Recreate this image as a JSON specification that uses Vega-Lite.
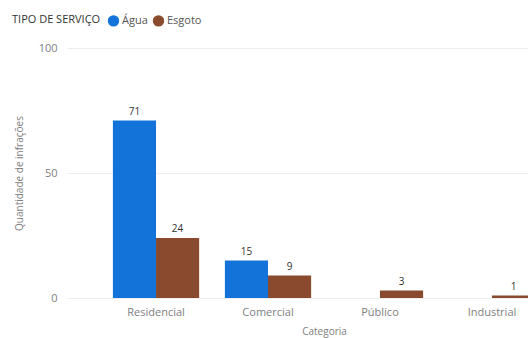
{
  "$schema": "https://vega.github.io/schema/vega-lite/v6.json",
  "autosize": {"type": "none"},
  "width": 514,
  "height": 250,
  "padding": {"left": 67, "top": 48, "right": 0, "bottom": 40},
  "background": "white",
  "config": {
    "font": "Open Sans",
    "view": {"stroke": null},
    "axis": {"labelColor": "#808080", "titleColor": "#808080", "labelFontSize": 11, "titleFontSize": 10, "titleFontWeight": "normal", "domain": false, "ticks": false}
  },
  "data": {
    "values": [
      {"Categoria": "Residencial", "Tipo": "Água", "Qtd": 71},
      {"Categoria": "Residencial", "Tipo": "Esgoto", "Qtd": 24},
      {"Categoria": "Comercial", "Tipo": "Água", "Qtd": 15},
      {"Categoria": "Comercial", "Tipo": "Esgoto", "Qtd": 9},
      {"Categoria": "Público", "Tipo": "Esgoto", "Qtd": 3},
      {"Categoria": "Industrial", "Tipo": "Esgoto", "Qtd": 1}
    ]
  },
  "encoding": {
    "x": {
      "field": "Categoria", "type": "nominal", "sort": ["Residencial", "Comercial", "Público", "Industrial"],
      "scale": {"paddingInner": 0.23, "paddingOuter": 0.41},
      "axis": {"labelAngle": 0, "labelPadding": 8, "title": "Categoria", "titlePadding": 9, "grid": false}
    },
    "xOffset": {"field": "Tipo", "type": "nominal", "sort": ["Água", "Esgoto"]},
    "y": {
      "field": "Qtd", "type": "quantitative",
      "scale": {"domain": [0, 100]},
      "axis": {"values": [0, 50, 100], "title": "Quantidade de infrações", "labelPadding": 10, "titlePadding": 14, "gridColor": "#eeeeee"}
    }
  },
  "layer": [
    {
      "mark": {"type": "bar"},
      "encoding": {
        "color": {
          "field": "Tipo", "type": "nominal", "sort": ["Água", "Esgoto"],
          "scale": {"domain": ["Água", "Esgoto"], "range": ["#1373D9", "#8A4A2D"]},
          "legend": {
            "title": "TIPO DE SERVIÇO", "orient": "none", "legendX": -55, "legendY": -34,
            "direction": "horizontal", "titleOrient": "left", "symbolType": "circle",
            "symbolSize": 130, "symbolOpacity": 1, "titleFontSize": 11, "titleFontWeight": "normal", "titleColor": "#333333",
            "labelFontSize": 11, "labelColor": "#555555", "columnPadding": 4, "labelOffset": 2, "titlePadding": 6
          }
        }
      }
    },
    {
      "mark": {"type": "text", "dy": -9, "fontSize": 10, "color": "#333333"},
      "encoding": {"text": {"field": "Qtd", "type": "quantitative"}}
    }
  ]
}
